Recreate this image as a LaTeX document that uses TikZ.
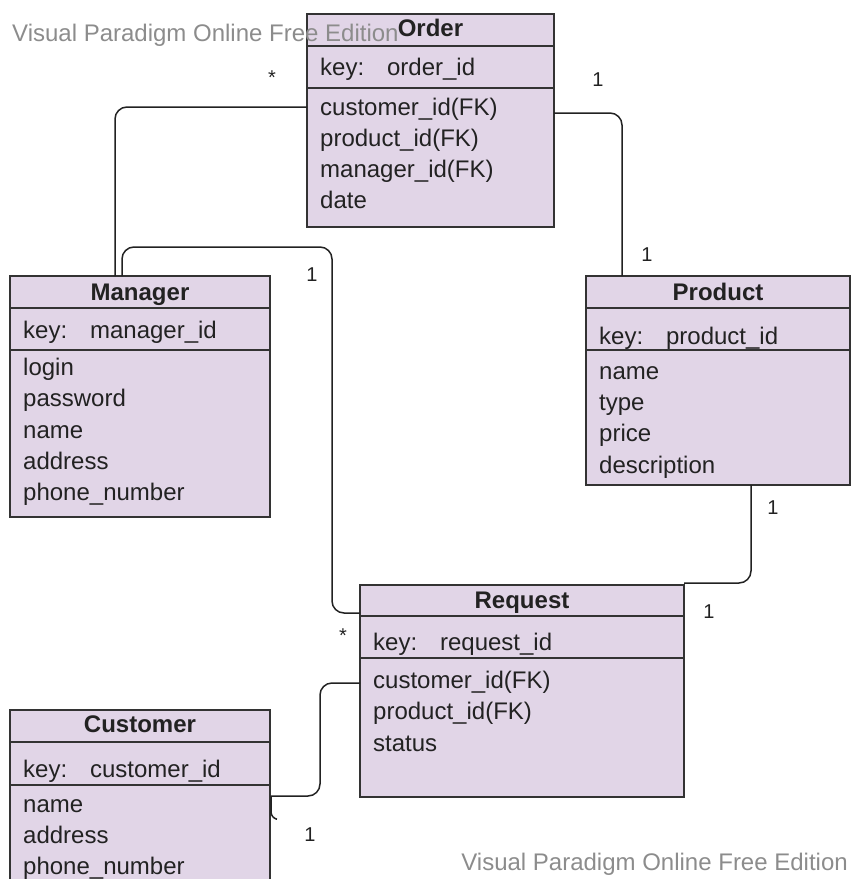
\documentclass[tikz,border=0pt]{standalone}
\usepackage{fontspec}
\setmainfont{Liberation Sans}
\usetikzlibrary{calc}
\definecolor{umlfill}{HTML}{E1D5E7}
\definecolor{umlline}{HTML}{333333}
\definecolor{umltext}{HTML}{222222}
\definecolor{connline}{HTML}{222222}
\definecolor{wm}{HTML}{8C8C8C}
\begin{document}
\begin{tikzpicture}[x=1pt,y=-1pt,
  box/.style={draw=umlline, fill=umlfill, line width=1.6pt, anchor=north west, inner sep=0pt, outer sep=0pt},
  divider/.style={draw=umlline, line width=2.4pt},
  ttl/.style={font=\fontsize{24}{24}\selectfont\bfseries, text=umltext, anchor=base, inner sep=0pt},
  attr/.style={font=\fontsize{24}{24}\selectfont, text=umltext, anchor=base west, inner sep=0pt},
  conn/.style={draw=connline, line width=1.5pt, rounded corners=12pt},
  mult/.style={font=\fontsize{20}{20}\selectfont, text=umltext, anchor=center, inner sep=0pt},
  wmark/.style={font=\fontsize{24}{24}\selectfont, text=wm, inner sep=0pt}]
\useasboundingbox (0,0) rectangle (851,879);
\clip (0,0) rectangle (851,879);

% ---------- Order ----------
\node[box, minimum width=247pt, minimum height=213pt] (ord) at (307,14) {};
\draw[divider] ($(ord.north west)+(0,32)$) -- ($(ord.north east)+(0,32)$);
\draw[divider] ($(ord.north west)+(0,74)$) -- ($(ord.north east)+(0,74)$);
\node[ttl] (ord-t) at ($(ord.north)+(0,22.5)$) {Order};
\node[attr] (ord-k) at ($(ord.north west)+(13,61.5)$) {key:\hspace{14pt} order\_id};
\node[attr] (ord-a1) at ($(ord.north west)+(13,101.5)$) {customer\_id(FK)};
\node[attr] (ord-a2) at ($(ord.north west)+(13,132.5)$) {product\_id(FK)};
\node[attr] (ord-a3) at ($(ord.north west)+(13,163.5)$) {manager\_id(FK)};
\node[attr] (ord-a4) at ($(ord.north west)+(13,194.5)$) {date};

% ---------- Manager ----------
\node[box, minimum width=260pt, minimum height=241pt] (mgr) at (10,276) {};
\draw[divider] ($(mgr.north west)+(0,32)$) -- ($(mgr.north east)+(0,32)$);
\draw[divider] ($(mgr.north west)+(0,74)$) -- ($(mgr.north east)+(0,74)$);
\node[ttl] (mgr-t) at ($(mgr.north)+(0,24.5)$) {Manager};
\node[attr] (mgr-k) at ($(mgr.north west)+(13,62.5)$) {key:\hspace{14pt} manager\_id};
\node[attr] (mgr-a1) at ($(mgr.north west)+(13,99.5)$) {login};
\node[attr] (mgr-a2) at ($(mgr.north west)+(13,130.5)$) {password};
\node[attr] (mgr-a3) at ($(mgr.north west)+(13,162.5)$) {name};
\node[attr] (mgr-a4) at ($(mgr.north west)+(13,193.5)$) {address};
\node[attr] (mgr-a5) at ($(mgr.north west)+(13,224.5)$) {phone\_number};

% ---------- Product ----------
\node[box, minimum width=264pt, minimum height=209pt] (prod) at (586,276) {};
\draw[divider] ($(prod.north west)+(0,32)$) -- ($(prod.north east)+(0,32)$);
\draw[divider] ($(prod.north west)+(0,74)$) -- ($(prod.north east)+(0,74)$);
\node[ttl] (prod-t) at ($(prod.north)+(0,24)$) {Product};
\node[attr] (prod-k) at ($(prod.north west)+(13,68.5)$) {key:\hspace{14pt} product\_id};
\node[attr] (prod-a1) at ($(prod.north west)+(13,103.5)$) {name};
\node[attr] (prod-a2) at ($(prod.north west)+(13,134.5)$) {type};
\node[attr] (prod-a3) at ($(prod.north west)+(13,165.5)$) {price};
\node[attr] (prod-a4) at ($(prod.north west)+(13,197.5)$) {description};

% ---------- Request ----------
\node[box, minimum width=324pt, minimum height=212pt] (req) at (360,585) {};
\draw[divider] ($(req.north west)+(0,31)$) -- ($(req.north east)+(0,31)$);
\draw[divider] ($(req.north west)+(0,73)$) -- ($(req.north east)+(0,73)$);
\node[ttl] (req-t) at ($(req.north)+(0,23.5)$) {Request};
\node[attr] (req-k) at ($(req.north west)+(13,65.5)$) {key:\hspace{14pt} request\_id};
\node[attr] (req-a1) at ($(req.north west)+(13,103.5)$) {customer\_id(FK)};
\node[attr] (req-a2) at ($(req.north west)+(13,134.5)$) {product\_id(FK)};
\node[attr] (req-a3) at ($(req.north west)+(13,166.5)$) {status};

% ---------- Customer ----------
\node[box, minimum width=260pt, minimum height=200pt] (cust) at (10,710) {};
\draw[divider] ($(cust.north west)+(0,32)$) -- ($(cust.north east)+(0,32)$);
\draw[divider] ($(cust.north west)+(0,75)$) -- ($(cust.north east)+(0,75)$);
\node[ttl] (cust-t) at ($(cust.north)+(0,22.5)$) {Customer};
\node[attr] (cust-k) at ($(cust.north west)+(13,67.5)$) {key:\hspace{14pt} customer\_id};
\node[attr] (cust-a1) at ($(cust.north west)+(13,102.5)$) {name};
\node[attr] (cust-a2) at ($(cust.north west)+(13,133.5)$) {address};
\node[attr] (cust-a3) at ($(cust.north west)+(13,164.5)$) {phone\_number};

% ---------- waypoints ----------
\coordinate (wMR1) at (122,247);
\coordinate (wMR2) at (332,247);
\coordinate (wRC1) at (320,683);
\coordinate (wRC2) at (320,796);

% ---------- connectors ----------
% Order -- Manager
\draw[conn] ($(ord.north west)+(0,93)$) -| ($(mgr.north west)+(105,0)$);
% Order -- Product
\draw[conn] ($(ord.north east)+(0,99)$) -| ($(prod.north west)+(36,0)$);
% Manager -- Request
\draw[conn] ($(mgr.north west)+(112,0)$) -- (wMR1) -- (wMR2) |- ($(req.north west)+(0,28)$);
% Product -- Request
\draw[conn] ($(prod.south west)+(165,0)$) |- ($(req.north east)+(0,-2)$);
% Request -- Customer
\draw[conn] ($(req.north west)+(0,98)$) -- (wRC1) -- (wRC2) -- ($(cust.north east)+(1,86)$);
\draw[draw=connline, line width=1.5pt, rounded corners=6pt] ($(cust.north east)+(1,86)$) -- ($(cust.north east)+(1,108)$) -- ($(cust.north east)+(6,109)$);

% ---------- multiplicities ----------
\node[mult] (m1) at (272,78) {*};
\node[mult] (m2) at (598,80) {1};
\node[mult] (m3) at (647,255) {1};
\node[mult] (m4) at (312,275) {1};
\node[mult] (m5) at (343,636) {*};
\node[mult] (m6) at (773,508) {1};
\node[mult] (m7) at (709,612) {1};
\node[mult] (m8) at (310,835) {1};

% ---------- watermarks ----------
\node[wmark, anchor=base west] (wm1) at (12,41.5) {Visual Paradigm Online Free Edition};
\node[wmark, anchor=base east] (wm2) at (848,870.5) {Visual Paradigm Online Free Edition};
\end{tikzpicture}
\end{document}
